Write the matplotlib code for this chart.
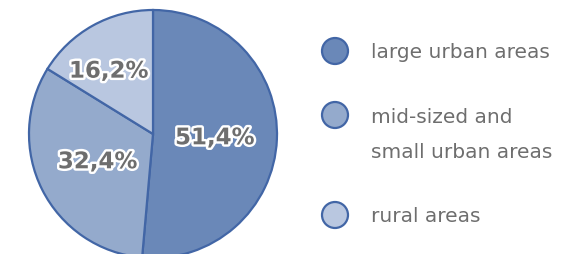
import matplotlib.pyplot as plt
import matplotlib.patheffects as pe
import numpy as np

# Data
categories = ['large urban areas', 'mid-sized and\nsmall urban areas', 'rural areas']
shares = [51.4, 32.4, 16.2]
pct_labels = ['51,4%', '32,4%', '16,2%']

colors = ['#6a88b8', '#94aacc', '#b9c7e0']
edge_color = '#4266a6'
text_gray = '#6e6e6e'

fig = plt.figure(figsize=(5.86, 2.55), dpi=100)
ax = fig.add_axes([0, 0, 1, 1])

cx, cy, r = 153, 120, 124
wedges, _ = ax.pie(shares, colors=colors, startangle=90, counterclock=False,
                   center=(cx, cy), radius=r, frame=True,
                   wedgeprops=dict(edgecolor=edge_color, linewidth=1.6))
ax.set_xlim(0, 586)
ax.set_ylim(0, 255)
ax.set_aspect('equal')
ax.axis('off')

# percentage labels: distance (fraction of radius) and angle offset per wedge
label_dist = [0.5, 0.5, 0.62]
label_shift = [-1, 0, 6]
for w, lab, d, sh in zip(wedges, pct_labels, label_dist, label_shift):
    ang = np.deg2rad((w.theta1 + w.theta2) / 2 + sh)
    x = cx + d * r * np.cos(ang)
    y = cy + d * r * np.sin(ang)
    ax.text(x, y, lab, ha='center', va='center', fontsize=16.5,
            fontweight='bold', color=text_gray,
            path_effects=[pe.withStroke(linewidth=3.5, foreground='white')])

# legend
leg_y = [203, 139, 39]
leg_text_y = [202, 120, 38]
for c, cat, ym, yt in zip(colors, categories, leg_y, leg_text_y):
    ax.add_patch(plt.Circle((335, ym), 13, facecolor=c, edgecolor=edge_color,
                            linewidth=1.6))
    ax.text(371, yt, cat, ha='left', va='center', fontsize=14.5,
            color=text_gray, linespacing=2.05)

fig.savefig('out.png', dpi=100)
